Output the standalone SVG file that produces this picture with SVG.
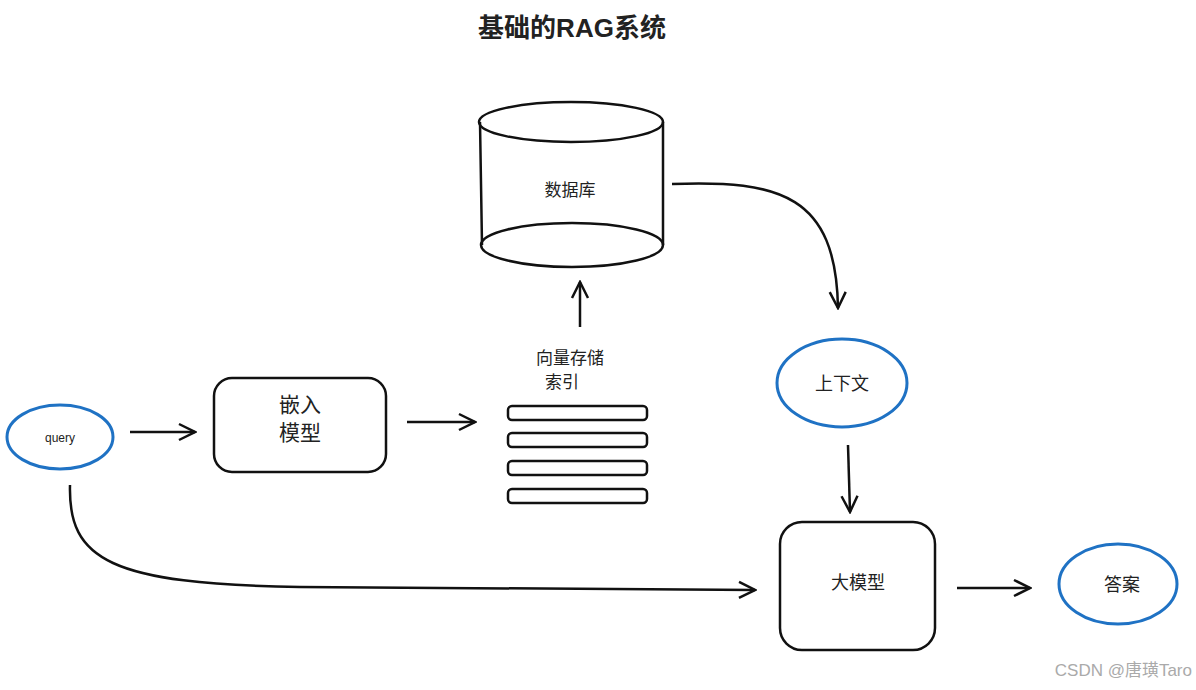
<svg xmlns="http://www.w3.org/2000/svg" width="1196" height="690" viewBox="0 0 1196 690">
<style>
text{font-family:"Liberation Sans","Noto Sans CJK SC",sans-serif;fill:#222;text-anchor:middle}
.k{fill:none;stroke:#111;stroke-width:2.5}
.b{fill:none;stroke:#1f72c4;stroke-width:3}
.c{fill:none;stroke:#111;stroke-width:2.5;marker-end:url(#a)}
</style>
<defs>
<marker id="a" viewBox="0 0 20 20" refX="18" refY="10" markerWidth="20" markerHeight="20" markerUnits="userSpaceOnUse" orient="auto">
<polyline points="2,2 18,10 2,18" fill="none" stroke="#111" stroke-width="2.5"/>
</marker>
</defs>
<rect width="1196" height="690" fill="#fff"/>
<text x="572" y="37" font-size="26" font-weight="bold">基础的RAG系统</text>
<g id="db">
<path class="k" d="M480,122 L482,245 M663,122 L663,245"/>
<ellipse class="k" cx="571" cy="122" rx="92" ry="20" fill="#fff"/>
<ellipse class="k" cx="572" cy="245" rx="91" ry="22"/>
<text x="570" y="196" font-size="17">数据库</text>
</g>
<g id="index">
<text x="570" y="364" font-size="17">向量存储</text>
<text x="562" y="388" font-size="17">索引</text>
<rect class="k" x="508" y="406" width="139" height="14" rx="4"/>
<rect class="k" x="508" y="433" width="139" height="14" rx="4"/>
<rect class="k" x="508" y="461" width="139" height="14" rx="4"/>
<rect class="k" x="508" y="489" width="139" height="14" rx="4"/>
</g>
<g id="query">
<ellipse class="b" cx="60" cy="437" rx="53" ry="32"/>
<text x="60" y="442" font-size="12">query</text>
</g>
<g id="embed">
<rect class="k" x="214" y="378" width="172" height="94" rx="18"/>
<text x="300" y="412" font-size="21">嵌入</text>
<text x="300" y="440" font-size="21">模型</text>
</g>
<g id="context">
<ellipse class="b" cx="842" cy="383" rx="65" ry="44"/>
<text x="842" y="390" font-size="18">上下文</text>
</g>
<g id="llm">
<rect class="k" x="780" y="522" width="155" height="128" rx="22"/>
<text x="858" y="589" font-size="18">大模型</text>
</g>
<g id="answer">
<ellipse class="b" cx="1118" cy="584" rx="59" ry="40"/>
<text x="1122" y="591" font-size="18">答案</text>
</g>
<g id="connectors">
<path class="c" d="M580,327 L580,282"/>
<path class="c" d="M130,432 L195,432"/>
<path class="c" d="M407,422 L475,422"/>
<path class="c" d="M672,184 C780,180 836,195 838,308"/>
<path class="c" d="M848,445 L850,512"/>
<path class="c" d="M957,588 L1030,588"/>
<path class="c" d="M70,485 C68,560 110,584 300,587 L755,590"/>
</g>
<text x="1192" y="676" font-size="17" style="text-anchor:end;fill:#aaa">CSDN @唐璜Taro</text>
</svg>
